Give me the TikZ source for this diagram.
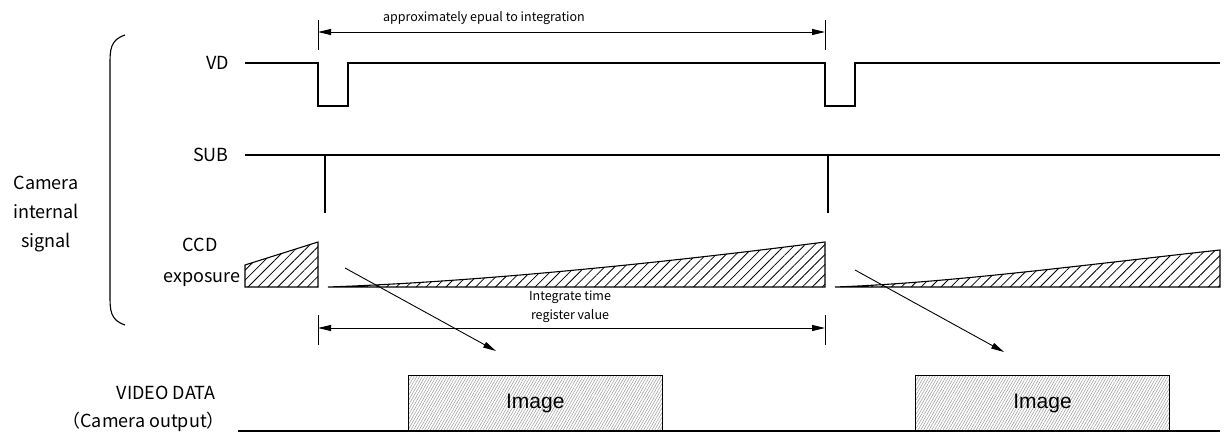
\documentclass[tikz,border=0pt]{standalone}
\usepackage{fontspec}
\setmainfont{Noto Sans CJK JP}
\newfontfamily\arialf{Liberation Sans}
\usetikzlibrary{patterns.meta,arrows.meta}
\begin{document}
\begin{tikzpicture}[x=1pt,y=-1pt,
  wave/.style={line width=1.1pt},
  lbl/.style={font=\fontsize{18}{29}\selectfont, inner sep=0pt},
  small/.style={font=\fontsize{12.5}{19}\selectfont, inner sep=0pt},
  dim/.style={line width=0.9pt,{Triangle[length=13pt,width=6pt]}-{Triangle[length=13pt,width=6pt]}},
  ptr/.style={line width=0.9pt,-{Triangle[length=13pt,width=6pt]}},
  ccd/.style={line width=1.1pt, pattern={Lines[angle=45,distance=7pt,line width=0.8pt]}},
  imgbox/.style={draw, line width=1pt, pattern={Lines[angle=60,distance=2.4pt,line width=0.5pt]}, pattern color=gray!80, minimum width=254pt, minimum height=55pt, inner sep=0pt, font=\arialf\fontsize{21}{23}\selectfont, anchor=south west}
]
\useasboundingbox (0,0) rectangle (1227,436);

% bracket
\draw[line width=1.1pt] (125,35) .. controls (110,40) and (110,50) .. (110,65) -- (110,295) .. controls (110,310) and (110,320) .. (125,325);

% left labels
\node[lbl, align=center] (cam) at (46,214) {Camera\\internal\\signal};
\node[lbl, anchor=east] (vdl) at (229,63) {VD};
\node[lbl, anchor=east] (subl) at (229,155) {SUB};
\node[lbl] (ccdl) at (200,245) {CCD};
\node[lbl] (expl) at (202,280) {exposure};
\node[lbl, anchor=east] (vidl) at (216,393) {VIDEO DATA};
\node[lbl, anchor=east] (outl) at (225,422) {（Camera output）};

% VD waveform
\draw[wave] (245,63) -- (318,63) -- (318,106) -- (348,106) -- (348,63) -- (825,63) -- (825,106) -- (855,106) -- (855,63) -- (1220,63);

% top dimension
\coordinate (t1a) at (318,20); \coordinate (t1b) at (318,50);
\coordinate (t2a) at (825,20); \coordinate (t2b) at (825,50);
\draw[line width=0.9pt] (t1a) -- (t1b);
\draw[line width=0.9pt] (t2a) -- (t2b);
\coordinate (da) at (318,32); \coordinate (db) at (825,32);
\draw[dim] (da) -- (db);
\node[small] (approx) at (484,18) {approximately epual to integration};

% SUB waveform
\draw[wave] (245,155) -- (1220,155);
\coordinate (s1) at (325,155); \coordinate (s1b) at (325,213);
\coordinate (s2) at (828,155); \coordinate (s2b) at (828,213);
\draw[wave] (s1) -- (s1b);
\draw[wave] (s2) -- (s2b);

% CCD exposure
\draw[ccd] (245,287) -- (245,265) -- (318,242) -- (318,287) -- cycle;
\draw[ccd] (328,287) .. controls (500,281) and (700,258) .. (825,242) -- (825,287) -- cycle;
\draw[ccd] (835,287) .. controls (950,283) and (1100,263) .. (1220,250) -- (1220,287) -- cycle;

% integrate time dimension
\draw[line width=0.9pt] (318,315) -- (318,345);
\draw[line width=0.9pt] (825,315) -- (825,345);
\coordinate (ia) at (318,328); \coordinate (ib) at (825,328);
\draw[dim] (ia) -- (ib);
\node[small, align=center] (integ) at (570,307) {Integrate time\\register value};

% video data
\draw[line width=1.2pt] (238,431) -- (1220,431);
\node[imgbox] (img1) at (408,431) {Image};
\node[imgbox] (img2) at (915,431) {Image};

% arrows
\coordinate (p1) at (345,268); \coordinate (q1) at (496,351);
\coordinate (p2) at (855,270); \coordinate (q2) at (1004,352);
\draw[ptr] (p1) -- (q1);
\draw[ptr] (p2) -- (q2);
\end{tikzpicture}
\end{document}
